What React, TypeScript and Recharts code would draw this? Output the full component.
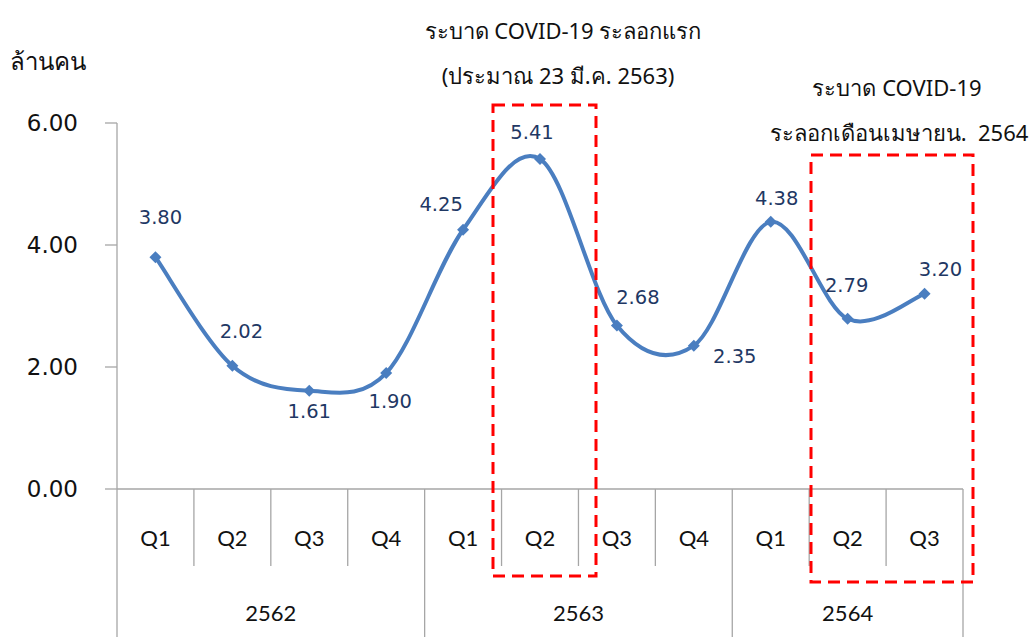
import { LineChart, Line, XAxis, YAxis } from "recharts";

const quarters = ["Q1", "Q2", "Q3", "Q4", "Q1", "Q2", "Q3", "Q4", "Q1", "Q2", "Q3"];
const years = ["2562", "2562", "2562", "2562", "2563", "2563", "2563", "2563", "2564", "2564", "2564"];
const visitors = [3.8, 2.02, 1.61, 1.9, 4.25, 5.41, 2.68, 2.35, 4.38, 2.79, 3.2];
const yTicks = [0, 2, 4, 6];

// where each value label sits relative to its point (dx, dy)
const labelOffsets: [number, number][] = [
    [5, -40], [9, -34], [0, 21], [4, 28], [-22, -25], [-8, -26],
    [21, -28], [41, 11], [6, -23], [-1, -33], [16, -24],
];

const data = quarters.map((q, i) => ({ q, year: years[i], value: visitors[i] }));

const W = 1032;
const H = 637;
const LEFT = 117;
const RIGHT = 963;
const AXIS_Y = 489;
const BAND = (RIGHT - LEFT) / quarters.length;
const BLUE = "#4A7EC0";
const GRID = "#A6A6A6";
const THAI = "Tahoma, 'Noto Sans', 'DejaVu Sans', sans-serif";

// Excel-like smoothed line (Catmull-Rom through the points)
const excelSmooth = (context: any) => {
    let pts: number[][] = [];
    return {
        areaStart() {},
        areaEnd() {},
        lineStart() {
            pts = [];
        },
        point(x: number, y: number) {
            pts.push([+x, +y]);
        },
        lineEnd() {
            if (!pts.length) return;
            context.moveTo(pts[0][0], pts[0][1]);
            for (let i = 0; i < pts.length - 1; i++) {
                const p0 = pts[Math.max(i - 1, 0)];
                const p1 = pts[i];
                const p2 = pts[i + 1];
                const p3 = pts[Math.min(i + 2, pts.length - 1)];
                context.bezierCurveTo(
                    p1[0] + (p2[0] - p0[0]) / 6,
                    p1[1] + (p2[1] - p0[1]) / 6,
                    p2[0] - (p3[0] - p1[0]) / 6,
                    p2[1] - (p3[1] - p1[1]) / 6,
                    p2[0],
                    p2[1]
                );
            }
        },
    };
};

function Diamond(props: any) {
    const { cx, cy } = props;
    if (cx == null || cy == null) return null;
    const r = 6;
    return (
        <path
            d={`M${cx},${cy - r}L${cx + r},${cy}L${cx},${cy + r}L${cx - r},${cy}Z`}
            fill={BLUE}
        />
    );
}

function ValueLabel(props: any) {
    const { x, y, value, index } = props;
    const [dx, dy] = labelOffsets[index] || [0, -20];
    return (
        <text
            x={x + dx}
            y={y + dy}
            textAnchor="middle"
            dominantBaseline="central"
            fontFamily="'DejaVu Sans', Verdana, sans-serif"
            fontSize={19.5}
            fill="#1F3864"
        >
            {Number(value).toFixed(2)}
        </text>
    );
}

function QuarterTick(props: any) {
    const { x, payload } = props;
    const i = props.index ?? payload.index;
    const left = x - BAND / 2;
    const yearStart = i === 0 || years[i] !== years[i - 1];
    const isLast = i === quarters.length - 1;
    let yearLabel = null;
    if (yearStart) {
        const count = years.filter((y) => y === years[i]).length;
        yearLabel = (
            <text
                x={left + (count * BAND) / 2}
                y={612}
                textAnchor="middle"
                dominantBaseline="central"
                fontFamily="Lato, sans-serif"
                fontSize={22}
                fill="#111"
            >
                {years[i]}
            </text>
        );
    }
    return (
        <g>
            <line x1={left} y1={AXIS_Y} x2={left} y2={yearStart ? H : 566} stroke={GRID} strokeWidth={1.3} />
            {isLast && <line x1={x + BAND / 2} y1={AXIS_Y} x2={x + BAND / 2} y2={H} stroke={GRID} strokeWidth={1.3} />}
            <text
                x={x}
                y={537}
                textAnchor="middle"
                dominantBaseline="central"
                fontFamily="Lato, sans-serif"
                fontSize={22}
                fill="#111"
            >
                {payload.value}
            </text>
            {yearLabel}
        </g>
    );
}

export default function App() {
    return (
        <div style={{ position: "absolute", left: 0, top: 0, width: W, height: H, background: "#fff" }}>
            <LineChart
                width={W}
                height={H}
                data={data}
                margin={{ top: 123, right: W - RIGHT, bottom: 0, left: 0 }}
            >
                <XAxis
                    dataKey="q"
                    interval={0}
                    padding={{ left: BAND / 2, right: BAND / 2 }}
                    height={H - AXIS_Y}
                    axisLine={{ stroke: GRID, strokeWidth: 1.3 }}
                    tickLine={false}
                    tick={<QuarterTick />}
                />
                <YAxis
                    domain={[0, 6]}
                    ticks={yTicks}
                    width={LEFT}
                    tickSize={12}
                    tickMargin={27}
                    tickFormatter={(v: number) => v.toFixed(2)}
                    axisLine={{ stroke: GRID, strokeWidth: 1.3 }}
                    tickLine={{ stroke: GRID, strokeWidth: 1.3 }}
                    tick={{ fontSize: 23, fill: "#111", fontFamily: "'DejaVu Sans', Verdana, sans-serif" }}
                />
                <Line
                    dataKey="value"
                    type={excelSmooth as any}
                    stroke={BLUE}
                    strokeWidth={4}
                    dot={<Diamond />}
                    activeDot={false}
                    label={<ValueLabel />}
                    isAnimationActive={false}
                />
            </LineChart>
            <svg
                width={W}
                height={H}
                style={{ position: "absolute", left: 0, top: 0, pointerEvents: "none" }}
            >
                <g fill="none" stroke="#FF0000" strokeWidth={3} strokeDasharray="12 7">
                    <rect x={493} y={105} width={103} height={471} />
                    <rect x={811} y={155} width={162} height={427} />
                </g>
                <g fontFamily={THAI} fill="#111" fontSize={22} textAnchor="middle" dominantBaseline="central">
                    <text x={48} y={60} fontSize={24}>ล้านคน</text>
                    <text x={563} y={30}>ระบาด COVID-19 ระลอกแรก</text>
                    <text x={558} y={75}>(ประมาณ 23 มี.ค. 2563)</text>
                    <text x={897} y={87}>ระบาด COVID-19</text>
                    <text x={899} y={132}>{"ระลอกเดือนเมษายน.\u00a0 2564"}</text>
                </g>
            </svg>
        </div>
    );
}
